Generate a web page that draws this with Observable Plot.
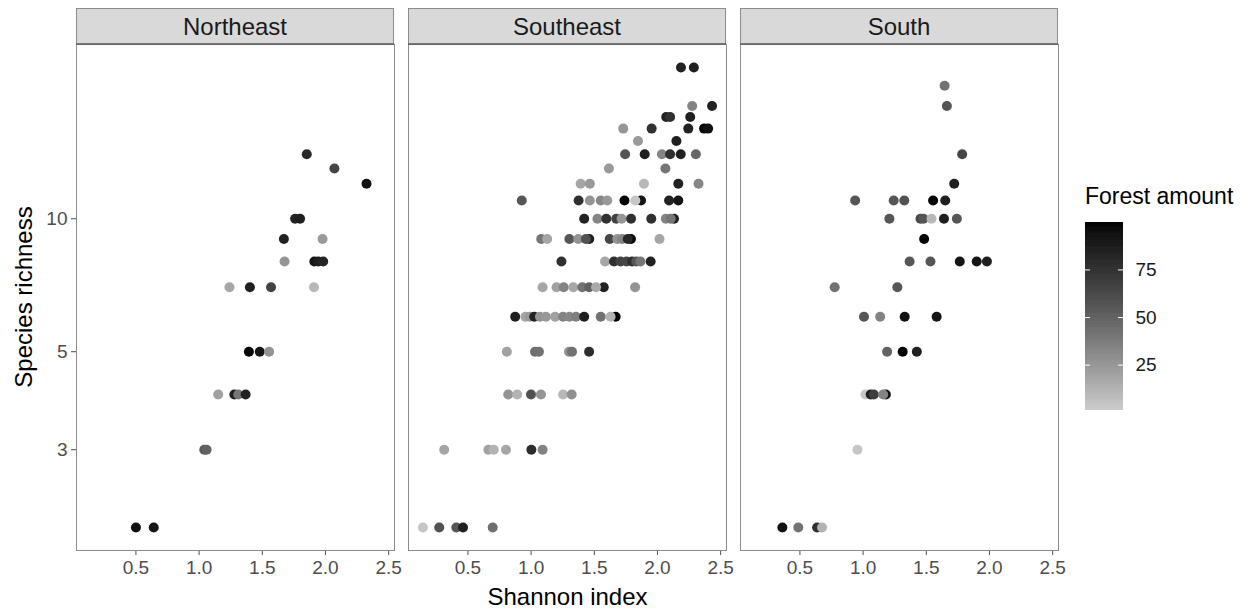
<!DOCTYPE html>
<html>
<head>
<meta charset="utf-8">
<script src="https://cdn.jsdelivr.net/npm/d3@7"></script>
<script src="https://cdn.jsdelivr.net/npm/@observablehq/plot@0.6"></script>
<style>
  body { margin: 0; background: #fff; }
  #wrap { position: relative; width: 1250px; height: 611px; font-family: "Liberation Sans", Arial, Helvetica, sans-serif; }
  #ltitle { position: absolute; left: 1085px; top: 184.5px; font-size: 23px; line-height: 23px; color: #000; white-space: nowrap; }
  #legend { position: absolute; left: 1085px; top: 219.7px; }
  #main { position: absolute; left: 0; top: 0; }
</style>
</head>
<body>
<div id="wrap">
  <div id="main"></div>
  <div id="ltitle">Forest amount</div>
  <div id="legend"></div>
</div>
<script>
// ---- data ----
const regions = ["Northeast", "Southeast", "South"];
const xTicks = [0.5, 1.0, 1.5, 2.0, 2.5];
const yTicks = [3, 5, 10];
const legendTicks = [25, 50, 75];
const forestLimits = [1.2, 99.9];

const neShannon  = [1.852, 2.071, 2.325, 1.760, 1.799, 1.671, 1.977, 1.676, 1.912, 1.943, 1.982, 1.240, 1.402, 1.569, 1.909, 1.394, 1.480, 1.554, 1.151, 1.279, 1.310, 1.368, 1.041, 1.059, 0.500, 0.641];
const neRichness = [14, 13, 12, 10, 10, 9, 9, 8, 8, 8, 8, 7, 7, 7, 7, 5, 5, 5, 4, 4, 4, 4, 3, 3, 2, 2];
const neForest   = [80, 65, 94, 84, 86, 84, 24, 26, 92, 86, 82, 18, 86, 66, 10, 98, 92, 26, 20, 85, 40, 84, 55, 50, 94, 92];

const seShannon = [
  2.186, 2.288,
  2.275, 2.432,
  2.069, 2.100, 2.259,
  1.729, 1.954, 2.244, 2.369, 2.401,
  1.846, 2.150,
  1.744, 1.899, 2.035, 2.100, 2.184, 2.304,
  1.616, 2.063,
  1.392, 1.465, 1.893, 2.165, 2.325,
  0.926, 1.376, 1.465, 1.551, 1.603, 1.739, 1.870, 1.825, 2.092, 2.165,
  1.420, 1.525, 1.595, 1.674, 1.716, 1.791, 1.951, 2.066, 2.131, 2.105,
  1.080, 1.127, 1.303, 1.373, 1.460, 1.433, 1.622, 1.682, 1.720, 1.790, 1.765, 2.016,
  1.240, 1.585, 1.656, 1.708, 1.755, 1.799, 1.833, 1.865, 1.946,
  1.091, 1.201, 1.258, 1.334, 1.405, 1.459, 1.575, 1.514, 1.823,
  0.874, 0.955, 0.989, 1.025, 1.070, 1.117, 1.190, 1.253, 1.303, 1.355, 1.420, 1.551, 1.669, 1.629,
  0.808, 1.031, 1.062, 1.300, 1.324, 1.459,
  0.819, 0.890, 0.999, 1.078, 1.253, 1.321,
  0.312, 0.662, 0.704, 0.801, 1.002, 1.091,
  0.144, 0.273, 0.408, 0.461, 0.696
];
const seRichness = [
  22, 22,
  18, 18,
  17, 17, 17,
  16, 16, 16, 16, 16,
  15, 15,
  14, 14, 14, 14, 14, 14,
  13, 13,
  12, 12, 12, 12, 12,
  11, 11, 11, 11, 11, 11, 11, 11, 11, 11,
  10, 10, 10, 10, 10, 10, 10, 10, 10, 10,
  9, 9, 9, 9, 9, 9, 9, 9, 9, 9, 9, 9,
  8, 8, 8, 8, 8, 8, 8, 8, 8,
  7, 7, 7, 7, 7, 7, 7, 7, 7,
  6, 6, 6, 6, 6, 6, 6, 6, 6, 6, 6, 6, 6, 6,
  5, 5, 5, 5, 5, 5,
  4, 4, 4, 4, 4, 4,
  3, 3, 3, 3, 3, 3,
  2, 2, 2, 2, 2
];
const seForest = [
  84, 86,
  34, 84,
  84, 76, 85,
  25, 75, 84, 99, 94,
  24, 86,
  57, 86, 33, 76, 85, 48,
  24, 40,
  18, 24, 10, 84, 32,
  56, 76, 26, 32, 24, 99, 93, 4, 84, 92,
  84, 33, 75, 66, 25, 76, 76, 33, 85, 40,
  40, 18, 56, 26, 85, 58, 64, 26, 33, 99, 80, 18,
  76, 18, 76, 66, 64, 76, 56, 40, 85,
  18, 20, 34, 18, 42, 50, 85, 16, 26,
  85, 18, 24, 84, 26, 24, 20, 34, 32, 36, 86, 42, 99, 12,
  20, 44, 42, 28, 42, 78,
  26, 12, 58, 26, 10, 28,
  18, 20, 12, 18, 78, 34,
  4, 58, 56, 86, 44
];

const soShannon  = [1.645, 1.663, 1.784, 1.721, 0.937, 1.242, 1.326, 1.554, 1.650, 1.208, 1.454, 1.478, 1.541, 1.640, 1.742, 1.483, 1.368, 1.533, 1.765, 1.899, 1.980, 0.775, 1.271, 1.007, 1.135, 1.329, 1.582, 1.190, 1.313, 1.425, 1.018, 1.060, 1.085, 1.180, 1.159, 0.955, 0.361, 0.487, 0.636, 0.675];
const soRichness = [20, 18, 14, 12, 11, 11, 11, 11, 11, 10, 10, 10, 10, 10, 10, 9, 8, 8, 8, 8, 8, 7, 7, 6, 6, 6, 6, 5, 5, 5, 4, 4, 4, 4, 4, 3, 2, 2, 2, 2];
const soForest   = [42, 56, 64, 86, 56, 56, 58, 99, 86, 56, 62, 56, 10, 86, 56, 99, 56, 56, 92, 92, 86, 42, 56, 56, 34, 94, 92, 50, 99, 86, 3, 85, 68, 94, 34, 4, 93, 42, 76, 12];

// ---- table built from the arrays ----
function rows(region, xs, ys, fs) {
  return xs.map((x, i) => ({region, shannon: x, richness: ys[i], forest: fs[i]}));
}
const data = [
  ...rows("Northeast", neShannon, neRichness, neForest),
  ...rows("Southeast", seShannon, seRichness, seForest),
  ...rows("South", soShannon, soRichness, soForest)
];

// ggplot-like 5% expansion (log space for y)
const xExt = d3.extent(data, d => d.shannon);
const xPad = (xExt[1] - xExt[0]) * 0.05;
const xDomain = [xExt[0] - xPad, xExt[1] + xPad];
const yExt = d3.extent(data, d => Math.log10(d.richness));
const yPad = (yExt[1] - yExt[0]) * 0.05;
const yDomain = [Math.pow(10, yExt[0] - yPad), Math.pow(10, yExt[1] + yPad)];

const colorScale = {type: "linear", domain: forestLimits, range: ["#cccccc", "#000000"], interpolate: d3.interpolateLab};
const font = "Liberation Sans, Arial, Helvetica, sans-serif";

const chart = Plot.plot({
  width: 1250,
  height: 611,
  marginLeft: 75,
  marginRight: 190,
  marginTop: 44,
  marginBottom: 61,
  style: {fontFamily: font, fontSize: "19px", color: "#4d4d4d", background: "white", overflow: "visible"},
  fx: {domain: regions, paddingInner: 0.042, paddingOuter: 0, axis: null, label: null},
  x: {domain: xDomain, ticks: xTicks, tickFormat: d3.format(".1f"), tickSize: 5, tickPadding: 5, label: null},
  y: {type: "log", domain: yDomain, ticks: yTicks, tickFormat: d => String(d), tickSize: 5, tickPadding: 4, label: null},
  color: colorScale,
  marks: [
    Plot.frame({stroke: "#8c8c8c"}),
    Plot.dot(data, {x: "shannon", y: "richness", fx: "region", fill: "forest", r: 5})
  ]
});
document.getElementById("main").appendChild(chart);

// strips + axis titles
const svg = d3.select(chart.tagName.toLowerCase() === "svg" ? chart : chart.querySelector("svg"));
const fxS = chart.scale("fx");
let bw = fxS.bandwidth;
let posOf = r => fxS.apply(r);
if (bw == null || isNaN(bw)) {
  const step = (1250 - 190 - 75) / (3 - 0.042);
  bw = step * (1 - 0.042);
  posOf = r => 75 + regions.indexOf(r) * step;
}
const strips = svg.append("g");
regions.forEach(r => {
  const x0 = posOf(r);
  strips.append("rect")
    .attr("x", x0 + 0.5).attr("y", 8.5)
    .attr("width", bw - 1).attr("height", 35.5)
    .attr("fill", "#d9d9d9").attr("stroke", "#8c8c8c");
  strips.append("line")
    .attr("x1", x0).attr("x2", x0 + bw).attr("y1", 44).attr("y2", 44)
    .attr("stroke", "#444").attr("stroke-width", 1.2);
  strips.append("text")
    .attr("x", x0 + bw / 2).attr("y", 35)
    .attr("text-anchor", "middle")
    .attr("fill", "#1a1a1a").style("font-size", "24px").style("font-family", font)
    .text(r);
});
svg.append("text")
  .attr("x", 75 + (1250 - 190 - 75) / 2).attr("y", 605)
  .attr("text-anchor", "middle").attr("fill", "#000")
  .style("font-size", "24px").style("font-family", font)
  .text("Shannon index");
svg.append("text")
  .attr("transform", "translate(32,297) rotate(-90)")
  .attr("text-anchor", "middle").attr("fill", "#000")
  .style("font-size", "24px").style("font-family", font)
  .text("Species richness");

// colour bar legend (vertical, ggplot style)
const nSamples = 160;
const lStep = (forestLimits[1] - forestLimits[0]) / nSamples;
const samples = d3.range(nSamples).map(i => forestLimits[0] + i * lStep);
const legend = Plot.plot({
  width: 100,
  height: 192,
  marginLeft: 0,
  marginRight: 62,
  marginTop: 2,
  marginBottom: 2,
  style: {fontFamily: font, fontSize: "19px", color: "#1a1a1a", background: "transparent", overflow: "visible"},
  x: {domain: [0, 1], axis: null},
  y: {domain: forestLimits, axis: "right", ticks: legendTicks, tickSize: 0, tickPadding: 12, label: null},
  color: colorScale,
  marks: [
    Plot.rect(samples, {x1: 0, x2: 1, y1: d => d, y2: d => Math.min(d + lStep * 1.6, forestLimits[1]), fill: d => d + lStep / 2}),
    Plot.ruleY(legendTicks, {x1: 0, x2: 0.13, stroke: "white", strokeWidth: 1}),
    Plot.ruleY(legendTicks, {x1: 0.87, x2: 1, stroke: "white", strokeWidth: 1})
  ]
});
document.getElementById("legend").appendChild(legend);
</script>
</body>
</html>
